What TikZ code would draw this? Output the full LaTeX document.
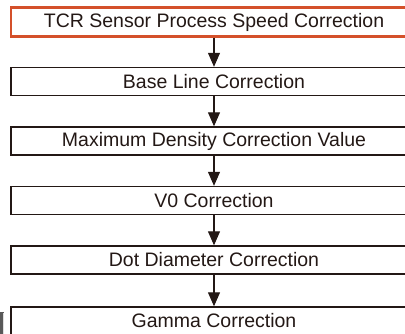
\documentclass[tikz,border=0pt]{standalone}
\usepackage{fontspec}
\setmainfont{Liberation Sans}
\usetikzlibrary{arrows.meta}
\definecolor{ink}{HTML}{231815}
\definecolor{redline}{HTML}{D4502A}
\tikzset{
  stepbox/.style={draw=ink, line width=1.4pt, minimum width=406pt, minimum height=28pt, inner sep=0pt, font=\fontsize{19.5}{21}\selectfont, text=ink},
  firstbox/.style={stepbox, draw=redline, line width=2.4pt, minimum height=29pt},
  flow/.style={draw=ink, line width=1.1pt, -{Triangle[width=12pt,length=14pt]}}
}
\begin{document}
\begin{tikzpicture}[x=1pt,y=-1pt]
\useasboundingbox (0,0) rectangle (405,333);
\clip (0,0) rectangle (405,333);
\node[firstbox] (b1) at (214,22) {TCR Sensor Process Speed Correction};
\node[stepbox] (b2) at (214,81.5) {Base Line Correction};
\node[stepbox] (b3) at (214,141) {Maximum Density Correction Value};
\node[stepbox] (b4) at (214,200.5) {V0 Correction};
\node[stepbox] (b5) at (214,260) {Dot Diameter Correction};
\node[stepbox] (b6) at (214,321) {Gamma Correction};
\draw[flow] (b1) -- (b2);
\draw[flow] (b2) -- (b3);
\draw[flow] (b3) -- (b4);
\draw[flow] (b4) -- (b5);
\draw[flow] (b5) -- (b6);
\fill[gray!70!black] (-1,312) rectangle (4,334);
\fill[gray!25] (3,313) rectangle (4,334);
\end{tikzpicture}
\end{document}
